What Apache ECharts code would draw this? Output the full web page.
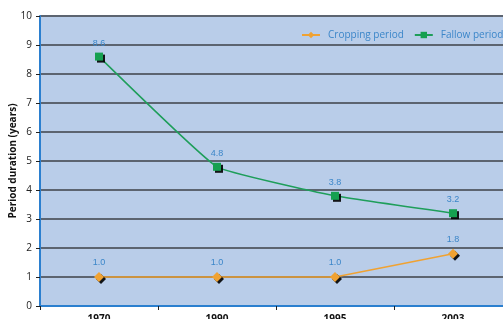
<!DOCTYPE html>
<html>
<head>
<meta charset="utf-8">
<script src="https://cdn.jsdelivr.net/npm/echarts@6/dist/echarts.min.js"></script>
<style>
  html, body { margin: 0; padding: 0; background: #fff; }
  #chart { width: 503px; height: 319px; }
</style>
</head>
<body>
<div id="chart"></div>
<script>
  // data
  var years = ['1970', '1990', '1995', '2003'];
  var cropping = [1.0, 1.0, 1.0, 1.8];
  var fallow = [8.6, 4.8, 3.8, 3.2];

  var labelBlue = '#3b86c9';
  var shadow = {
    shadowColor: 'rgba(0,0,0,0.9)',
    shadowBlur: 0,
    shadowOffsetX: 2,
    shadowOffsetY: 2
  };

  var myChart = echarts.init(document.getElementById('chart'));
  var option = {
    animation: false,
    legend: {
      top: 25,
      left: 296,
      width: 400,
      orient: 'horizontal',
      itemWidth: 18,
      itemHeight: 8,
      itemGap: 10,
      textStyle: { color: labelBlue, fontSize: 10, fontFamily: 'Open Sans', padding: [0, 0, 0, 3] },
      data: ['Cropping period', 'Fallow period']
    },
    grid: {
      left: 40,
      top: 16,
      width: 472,
      height: 290,
      outerBoundsMode: 'none',
      containLabel: false,
      show: true,
      backgroundColor: '#b9cde9',
      borderWidth: 0
    },
    xAxis: {
      type: 'category',
      data: years,
      boundaryGap: true,
      axisLine: { lineStyle: { color: '#2b7fcf', width: 2 } },
      axisTick: { show: true, length: 4, lineStyle: { color: '#222' } },
      axisLabel: {
        color: '#111',
        fontWeight: 'bold',
        fontSize: 10,
        margin: 8,
        fontFamily: 'Open Sans'
      }
    },
    yAxis: {
      type: 'value',
      min: 0,
      max: 10,
      interval: 1,
      name: 'Period duration (years)',
      nameLocation: 'middle',
      nameGap: 22,
      nameMoveOverlap: false,
      nameTextStyle: { color: '#111', fontWeight: 'bold', fontSize: 10, fontFamily: 'Open Sans' },
      axisLine: { show: true, lineStyle: { color: '#2b7fcf', width: 2 } },
      axisTick: { show: true, length: 4, lineStyle: { color: '#222' } },
      axisLabel: { color: '#222', fontSize: 10, margin: 8, fontFamily: 'Open Sans' },
      splitLine: { lineStyle: { color: '#5c6470', width: 2 } }
    },
    series: [{
      name: 'Cropping period',
      type: 'line',
      data: cropping,
      symbol: 'diamond',
      symbolSize: 10,
      lineStyle: { color: '#f0a232', width: 1.5 },
      itemStyle: Object.assign({ color: '#f0a232' }, shadow),
      label: {
        show: true,
        position: 'top',
        distance: 5,
        color: labelBlue,
        fontSize: 9,
        formatter: function (p) { return p.value.toFixed(1); }
      },
      z: 3
    }, {
      name: 'Fallow period',
      type: 'line',
      data: fallow,
      symbol: 'rect',
      symbolSize: 8,
      smooth: 0.1,
      lineStyle: { color: '#1e9e5a', width: 1.5 },
      itemStyle: Object.assign({ color: '#16a050' }, shadow),
      label: {
        show: true,
        position: 'top',
        distance: 5,
        color: labelBlue,
        fontSize: 9,
        formatter: function (p) { return p.value.toFixed(1); }
      },
      z: 4
    }]
  };
  myChart.setOption(option);
</script>
</body>
</html>
